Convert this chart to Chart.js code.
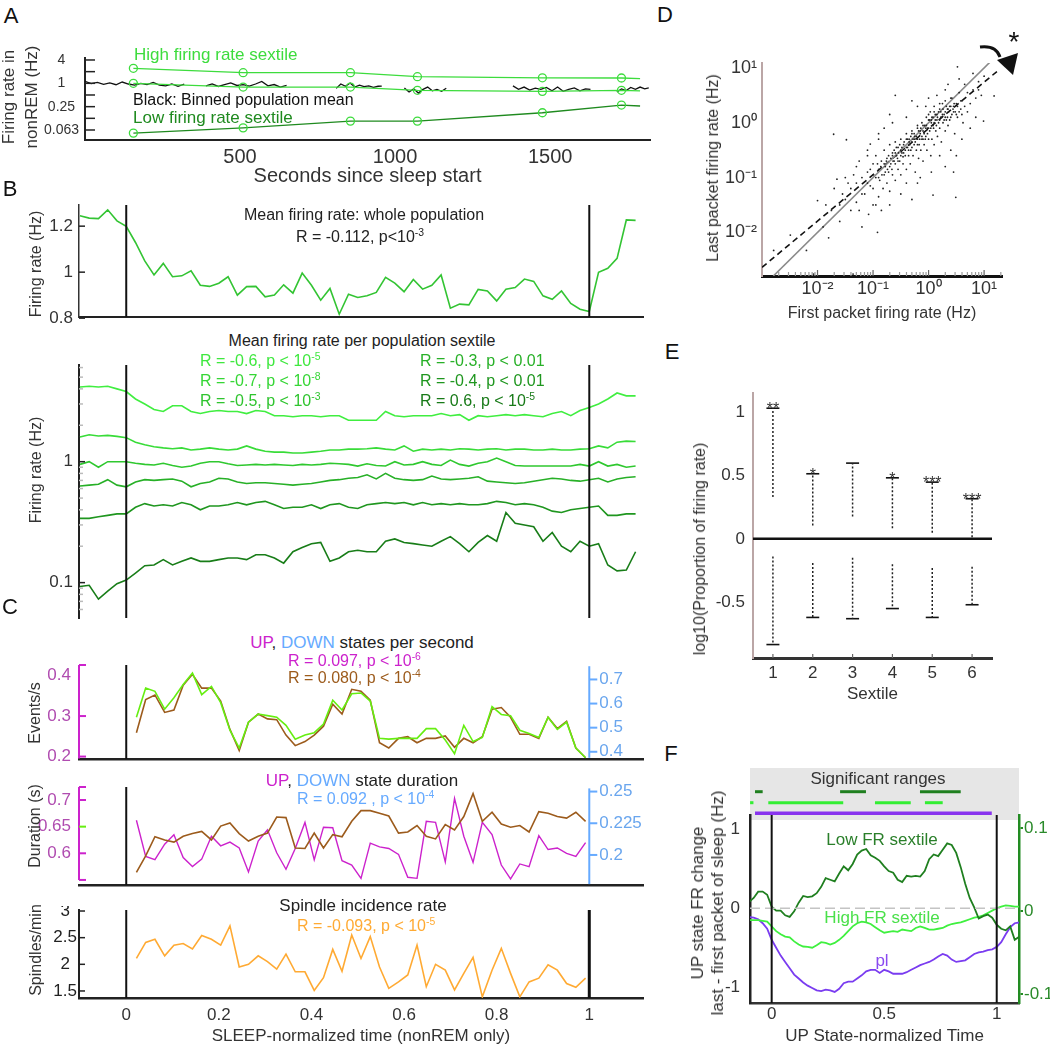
<!DOCTYPE html>
<html>
<head>
<meta charset="utf-8">
<script src="https://cdn.jsdelivr.net/npm/chart.js@4.4.0/dist/chart.umd.min.js"></script>
<style>
body { margin: 0; background: #fff; width: 1050px; height: 1047px; position: relative; overflow: hidden; font-family: 'Liberation Sans', Arial, sans-serif; color: #222; }
canvas { position: absolute; }
.t { position: absolute; white-space: nowrap; line-height: 1; transform: translate(-50%, -50%); }
.l { transform: translate(0, -50%); }
.rt { position: absolute; white-space: nowrap; text-align: center; transform: translate(-50%, -50%) rotate(-90deg); color: #333; }
.lt { position: absolute; font-size: 22px; line-height: 1; color: #111; transform: translate(-50%, -50%); }
sup { font-size: 65%; line-height: 0; vertical-align: 0.55em; }
</style>
</head>
<body>
<canvas id="cA"></canvas>
<canvas id="cB1"></canvas>
<canvas id="cB2"></canvas>
<canvas id="cC1"></canvas>
<canvas id="cC2"></canvas>
<canvas id="cC3"></canvas>
<canvas id="cD"></canvas>
<canvas id="cE"></canvas>
<canvas id="cF"></canvas>

<!-- panel letters -->
<div class="lt" style="left:11px;top:16px">A</div>
<div class="lt" style="left:10px;top:189px">B</div>
<div class="lt" style="left:10px;top:607px">C</div>
<div class="lt" style="left:665px;top:15px">D</div>
<div class="lt" style="left:672px;top:352px">E</div>
<div class="lt" style="left:671px;top:754px">F</div>

<!-- y axis titles -->
<div class="rt" style="left:20px;top:97px;font-size:17px;line-height:23px">Firing rate in<br>nonREM (Hz)</div>
<div class="rt" style="left:36px;top:264px;font-size:16px">Firing rate (Hz)</div>
<div class="rt" style="left:36px;top:470px;font-size:16px">Firing rate (Hz)</div>
<div class="rt" style="left:35px;top:713px;font-size:16px">Events/s</div>
<div class="rt" style="left:35px;top:826px;font-size:16px">Duration (s)</div>
<div class="rt" style="left:36px;top:950px;font-size:16px">Spindles/min</div>
<div class="rt" style="left:713px;top:168px;font-size:16px">Last packet firing rate (Hz)</div>
<div class="rt" style="left:700px;top:549px;font-size:16px">log10(Proportion of firing rate)</div>
<div class="rt" style="left:708px;top:903px;font-size:17px;line-height:20px">UP state FR change<br>last - first packet of sleep (Hz)</div>

<!-- A annotations -->
<div class="t l" style="left:134px;top:54px;font-size:17px;color:#3ddc3d">High firing rate sextile</div>
<div class="t l" style="left:133px;top:100px;font-size:16px;color:#111">Black: Binned population mean</div>
<div class="t l" style="left:133px;top:117px;font-size:17px;color:#1f8a1f">Low firing rate sextile</div>

<!-- B annotations -->
<div class="t" style="left:364px;top:215px;font-size:16px">Mean firing rate: whole population</div>
<div class="t" style="left:360px;top:237px;font-size:16px">R = -0.112, p&lt;10<sup>-3</sup></div>
<div class="t" style="left:362px;top:341px;font-size:16px">Mean firing rate per population sextile</div>
<div class="t l" style="left:200px;top:361px;font-size:16px;color:#3fe83f">R = -0.6, p &lt; 10<sup>-5</sup></div>
<div class="t l" style="left:200px;top:381px;font-size:16px;color:#36d636">R = -0.7, p &lt; 10<sup>-8</sup></div>
<div class="t l" style="left:200px;top:401px;font-size:16px;color:#2fc42f">R = -0.5, p &lt; 10<sup>-3</sup></div>
<div class="t l" style="left:420px;top:361px;font-size:16px;color:#28b028">R = -0.3, p &lt; 0.01</div>
<div class="t l" style="left:420px;top:381px;font-size:16px;color:#1f961f">R = -0.4, p &lt; 0.01</div>
<div class="t l" style="left:420px;top:401px;font-size:16px;color:#187a18">R = 0.6, p &lt; 10<sup>-5</sup></div>

<!-- C annotations -->
<div class="t" style="left:362px;top:642px;font-size:17px"><span style="color:#cc22cc">UP</span>, <span style="color:#66aaff">DOWN</span> states per second</div>
<div class="t l" style="left:288px;top:661px;font-size:16px;color:#cc22cc">R = 0.097, p &lt; 10<sup>-6</sup></div>
<div class="t l" style="left:288px;top:678px;font-size:16px;color:#9c5b1c">R = 0.080, p &lt; 10<sup>-4</sup></div>
<div class="t" style="left:362px;top:780px;font-size:17px"><span style="color:#cc22cc">UP</span>, <span style="color:#66aaff">DOWN</span> state duration</div>
<div class="t l" style="left:297px;top:799px;font-size:16px;color:#66aaff">R = 0.092 , p &lt; 10<sup>-4</sup></div>
<div class="t" style="left:363px;top:905px;font-size:17px">Spindle incidence rate</div>
<div class="t l" style="left:297px;top:926px;font-size:16px;color:#ffaa33">R = -0.093, p &lt; 10<sup>-5</sup></div>

<!-- D / F annotations -->
<div class="t" style="left:1014px;top:42px;font-size:28px;color:#111">*</div>
<div class="t" style="left:878px;top:778px;font-size:17px;color:#333">Significant ranges</div>
<div class="t" style="left:882px;top:839px;font-size:17px;color:#2a7f2a">Low FR sextile</div>
<div class="t" style="left:882px;top:917px;font-size:17px;color:#4ae04a">High FR sextile</div>
<div class="t" style="left:882px;top:960px;font-size:17px;color:#8a4af0">pl</div>

<script>
// ---------------- data ----------------

// A: sextile rates at recording checkpoints (seconds since sleep start)
const aTimes = [156, 510, 856, 1072, 1475, 1730, 1790];
const aHigh = [2.44, 1.88, 1.88, 1.48, 1.39, 1.37, 1.32];
const aMid = [1.0, 0.8, 0.8, 0.66, 0.62, 0.66, 0.64];
const aLow = [0.052, 0.071, 0.106, 0.106, 0.174, 0.275, 0.26];
// binned population mean (null = gap between packets)
const popT = [0, 20, 40, 60, 80, 100, 120, 140, 160, 180, 200, 220, 240, 260, 280, 300, 320, 350,
  390, 410, 430, 450, 470, 490, 510, 530, 550, 570, 590, 610, 630, 650, 720,
  810, 825, 840, 855, 870, 885, 900, 915, 930, 945, 957, 1000,
  1030, 1045, 1060, 1075, 1090, 1105, 1120, 1135, 1150, 1165, 1250,
  1380, 1398, 1416, 1434, 1452, 1470, 1488, 1506, 1524, 1542, 1560, 1578, 1596, 1614, 1630, 1680,
  1715, 1730, 1745, 1760, 1775, 1790, 1805, 1818];
const popV = [1.12, 0.98, 1.06, 0.94, 1.02, 0.92, 1.08, 0.96, 0.9, 1.0, 0.93, 1.05, 0.9, 0.86, 0.96, 0.84, 0.95, null,
  0.86, 0.97, 0.83, 0.92, 1.02, 0.88, 0.93, 0.85, 0.96, 1.12, 0.86, 0.93, 0.8, 0.88, null,
  0.74, 0.96, 0.84, 1.02, 0.8, 0.9, 0.82, 0.86, 0.79, 0.84, 0.85, null,
  0.76, 0.6, 0.72, 0.56, 0.7, 0.8, 0.64, 0.7, 0.62, 0.75, null,
  0.86, 0.7, 0.8, 0.67, 0.75, 0.7, 0.78, 0.64, 0.8, 0.62, 0.7, 0.76, 0.64, 0.72, 0.7, null,
  0.6, 0.72, 0.65, 0.78, 0.7, 0.8, 0.72, 0.76];

// B and F: sleep-normalized time bins
const binTime = [-0.1, -0.08, -0.06, -0.04, -0.02, 0, 0.02, 0.04, 0.06, 0.08, 0.1, 0.12, 0.14, 0.16, 0.18, 0.2,
  0.22, 0.24, 0.26, 0.28, 0.3, 0.32, 0.34, 0.36, 0.38, 0.4, 0.42, 0.44, 0.46, 0.48, 0.5, 0.52, 0.54, 0.56,
  0.58, 0.6, 0.62, 0.64, 0.66, 0.68, 0.7, 0.72, 0.74, 0.76, 0.78, 0.8, 0.82, 0.84, 0.86, 0.88, 0.9, 0.92,
  0.94, 0.96, 0.98, 1, 1.02, 1.04, 1.06, 1.08, 1.1];
const bMean = [1.245, 1.235, 1.233, 1.271, 1.223, 1.199, 1.129, 1.049, 0.988, 1.038, 0.980, 0.984, 1.006,
  0.943, 0.938, 0.952, 0.980, 0.900, 0.937, 0.938, 0.893, 0.901, 0.945, 0.909, 0.996, 0.943, 0.878, 0.929,
  0.817, 0.904, 0.890, 0.897, 0.912, 0.977, 0.952, 0.915, 0.968, 0.926, 0.943, 0.988, 0.843, 0.861, 0.858,
  0.925, 0.918, 0.875, 0.926, 0.933, 0.970, 0.960, 0.897, 0.882, 0.918, 0.864, 0.839, 0.829, 0.999, 1.017,
  1.060, 1.227, 1.225];
const sext6 = [4.15, 4.2, 4.15, 4.2, 4.0, 3.8, 3.3, 3.0, 2.7, 2.6, 2.9, 2.9, 2.6, 2.5, 2.6, 2.65, 2.6, 2.6, 2.5,
  2.65, 2.6, 2.4, 2.4, 2.35, 2.4, 2.4, 2.35, 2.4, 2.4, 2.2, 2.2, 2.2, 2.2, 2.6, 2.4, 2.35, 2.4, 2.4, 2.4, 2.5,
  2.4, 2.45, 2.2, 2.4, 2.35, 2.4, 2.45, 2.4, 2.45, 2.4, 2.35, 2.5, 2.6, 2.4, 2.65, 2.8, 3.0, 3.3, 3.7, 3.5, 3.5];
const sext5 = [1.6, 1.67, 1.63, 1.65, 1.62, 1.58, 1.45, 1.38, 1.33, 1.3, 1.28, 1.3, 1.25, 1.27, 1.3, 1.27, 1.25,
  1.27, 1.35, 1.27, 1.22, 1.2, 1.2, 1.18, 1.18, 1.2, 1.22, 1.25, 1.25, 1.27, 1.27, 1.28, 1.3, 1.27, 1.25, 1.35,
  1.22, 1.27, 1.25, 1.27, 1.25, 1.28, 1.27, 1.25, 1.27, 1.28, 1.25, 1.27, 1.27, 1.25, 1.25, 1.27, 1.25, 1.25,
  1.27, 1.28, 1.35, 1.3, 1.45, 1.48, 1.47];
const sext4 = [0.95, 1.0, 0.9, 1.0, 1.0, 1.0, 0.97, 0.95, 0.94, 0.97, 0.93, 0.9, 0.92, 0.97, 1.0, 1.0, 0.96, 0.93,
  0.94, 0.95, 0.94, 0.95, 0.94, 0.93, 0.95, 0.94, 0.95, 0.97, 0.96, 0.95, 0.92, 0.96, 0.93, 0.92, 1.0, 0.94,
  0.95, 1.0, 0.95, 0.93, 1.03, 0.95, 0.92, 0.97, 1.0, 1.07, 1.0, 0.93, 0.92, 0.92, 0.92, 0.92, 0.92, 0.92,
  0.95, 0.92, 1.0, 0.92, 0.95, 0.9, 0.92];
const sext3 = [0.63, 0.64, 0.65, 0.71, 0.64, 0.62, 0.68, 0.71, 0.7, 0.71, 0.72, 0.69, 0.62, 0.66, 0.68, 0.73,
  0.72, 0.68, 0.66, 0.67, 0.67, 0.66, 0.65, 0.64, 0.65, 0.66, 0.68, 0.7, 0.71, 0.73, 0.74, 0.78, 0.72, 0.8,
  0.73, 0.71, 0.7, 0.71, 0.76, 0.72, 0.71, 0.72, 0.73, 0.75, 0.69, 0.68, 0.67, 0.66, 0.67, 0.69, 0.71, 0.73,
  0.72, 0.7, 0.69, 0.71, 0.73, 0.68, 0.72, 0.74, 0.75];
const sext2 = [0.34, 0.34, 0.35, 0.36, 0.37, 0.37, 0.42, 0.45, 0.43, 0.44, 0.43, 0.46, 0.44, 0.4, 0.43, 0.43,
  0.44, 0.46, 0.44, 0.46, 0.47, 0.44, 0.41, 0.42, 0.42, 0.44, 0.41, 0.44, 0.45, 0.42, 0.41, 0.44, 0.45, 0.46,
  0.45, 0.46, 0.44, 0.46, 0.44, 0.45, 0.44, 0.45, 0.44, 0.44, 0.45, 0.47, 0.46, 0.44, 0.45, 0.44, 0.42, 0.39,
  0.38, 0.4, 0.41, 0.42, 0.43, 0.36, 0.36, 0.37, 0.37];
const sext1 = [0.093, 0.095, 0.073, 0.085, 0.098, 0.105, 0.12, 0.138, 0.14, 0.155, 0.14, 0.15, 0.16, 0.15, 0.15,
  0.155, 0.16, 0.16, 0.155, 0.17, 0.17, 0.16, 0.145, 0.18, 0.195, 0.21, 0.215, 0.15, 0.16, 0.18, 0.185, 0.18,
  0.18, 0.22, 0.23, 0.215, 0.21, 0.205, 0.2, 0.22, 0.24, 0.21, 0.18, 0.215, 0.245, 0.22, 0.38, 0.31, 0.3, 0.29,
  0.22, 0.26, 0.2, 0.18, 0.22, 0.2, 0.21, 0.14, 0.125, 0.127, 0.18];

// C: nonREM time bins
const cTime = [0.022, 0.042, 0.062, 0.083, 0.103, 0.123, 0.143, 0.163, 0.184, 0.204, 0.224, 0.244, 0.264, 0.285,
  0.305, 0.325, 0.345, 0.365, 0.386, 0.406, 0.426, 0.446, 0.466, 0.487, 0.507, 0.527, 0.547, 0.567, 0.588,
  0.608, 0.628, 0.648, 0.668, 0.689, 0.709, 0.729, 0.749, 0.769, 0.790, 0.810, 0.830, 0.850, 0.870, 0.891,
  0.911, 0.931, 0.951, 0.971, 0.992];
const rateGreen = [0.297, 0.369, 0.361, 0.317, 0.345, 0.378, 0.406, 0.353, 0.373, 0.333, 0.265, 0.221, 0.285,
  0.305, 0.301, 0.297, 0.277, 0.243, 0.253, 0.259, 0.280, 0.339, 0.315, 0.355, 0.357, 0.337, 0.245, 0.243,
  0.245, 0.245, 0.245, 0.269, 0.269, 0.241, 0.207, 0.277, 0.237, 0.247, 0.323, 0.304, 0.301, 0.265, 0.257,
  0.247, 0.297, 0.267, 0.285, 0.221, 0.197];
const rateBrown = [0.259, 0.341, 0.352, 0.309, 0.315, 0.376, 0.403, 0.369, 0.369, 0.337, 0.267, 0.215, 0.285,
  0.305, 0.293, 0.291, 0.253, 0.227, 0.237, 0.253, 0.275, 0.329, 0.305, 0.366, 0.361, 0.339, 0.234, 0.221,
  0.245, 0.249, 0.234, 0.245, 0.245, 0.251, 0.223, 0.245, 0.234, 0.249, 0.317, 0.321, 0.297, 0.255, 0.255,
  0.245, 0.297, 0.269, 0.287, 0.221, 0.197];
const durBrown = [0.564, 0.595, 0.631, 0.625, 0.621, 0.632, 0.637, 0.641, 0.625, 0.651, 0.657, 0.637, 0.623,
  0.632, 0.638, 0.668, 0.667, 0.610, 0.609, 0.638, 0.610, 0.635, 0.631, 0.660, 0.680, 0.680, 0.675, 0.670,
  0.638, 0.640, 0.652, 0.632, 0.627, 0.654, 0.644, 0.669, 0.712, 0.660, 0.677, 0.655, 0.649, 0.652, 0.640,
  0.678, 0.675, 0.669, 0.666, 0.677, 0.660];
const durMagenta = [0.662, 0.594, 0.588, 0.617, 0.635, 0.592, 0.575, 0.589, 0.632, 0.614, 0.621, 0.610, 0.565,
  0.623, 0.644, 0.601, 0.570, 0.609, 0.658, 0.588, 0.649, 0.648, 0.586, 0.578, 0.553, 0.619, 0.612, 0.609,
  0.598, 0.555, 0.553, 0.660, 0.658, 0.584, 0.703, 0.632, 0.583, 0.658, 0.635, 0.578, 0.552, 0.580, 0.575,
  0.633, 0.607, 0.610, 0.600, 0.594, 0.620];
const spindles = [2.11, 2.41, 2.47, 2.16, 2.36, 2.39, 2.29, 2.54, 2.47, 2.36, 2.72, 1.95, 2.0, 2.16, 2.05, 1.91,
  2.19, 1.86, 1.86, 1.51, 1.75, 2.28, 1.87, 2.55, 2.11, 2.52, 1.95, 1.55, 1.67, 1.80, 2.36, 1.58, 2.0, 1.89,
  1.52, 1.83, 2.13, 1.39, 1.89, 2.30, 1.83, 1.39, 1.67, 1.74, 1.99, 1.89, 1.64, 1.57, 1.74];

// D: log10(first packet rate), log10(last packet rate) per neuron
const dPairs = [[0.52, 1.02], [-1.71, -0.21], [-1.48, -0.31], [-1.65, -1.03], [-2.0, -1.42], [-2.49, -2.05],
  [-2.79, -2.33], [-2.2, -2.33], [-2.07, -2.76], [-1.36, -2.76], [-1.08, -1.67], [0.49, -1.36], [0.99, 0.03],
  [1.18, 0.49], [-0.7, 0.15], [-1.05, -0.39], [0.08, -1.32], [-0.92, -2.0], [-1.2, -1.9], [-1.4, -1.6],
  [-1.55, -1.3], [-1.3, -1.1], [-1.6, -1.8], [-1.8, -2.1], [-1.0, -1.5], [-0.9, -0.2], [-0.6, 0.5], [-0.3, 0.4],
  [0.7, 0.2], [0.9, 0.6], [0.8, 0.9], [0.3, -0.8], [0.5, -0.6], [-0.2, -1.1], [-1.1, -0.6], [-1.3, -0.8],
  [-1.5, -1.0], [-1.2, -1.3],
  [-1.2, -1.0], [-1.15, -1.3], [-1.1, -0.9], [-1.05, -1.15], [-1.0, -0.75], [-1.0, -1.2], [-0.95, -1.0],
  [-0.95, -0.6], [-0.9, -1.35], [-0.9, -0.85], [-0.88, -1.05], [-0.85, -0.7], [-0.82, -1.2], [-0.8, -0.95],
  [-0.8, -0.5], [-0.78, -0.8], [-0.75, -1.1], [-0.75, -0.65], [-0.72, -0.9], [-0.7, -0.4], [-0.7, -1.25],
  [-0.68, -0.75], [-0.65, -0.95], [-0.65, -0.55], [-0.62, -0.7], [-0.6, -1.05], [-0.6, -0.35], [-0.58, -0.6],
  [-0.55, -0.85], [-0.55, -0.45], [-0.52, -0.7], [-0.5, -0.95], [-0.5, -0.3], [-0.48, -0.55], [-0.46, -0.75],
  [-0.45, -0.4], [-0.42, -0.6], [-0.4, -0.2], [-0.4, -0.85], [-0.38, -0.45], [-0.36, -0.6], [-0.35, -0.3],
  [-0.33, -0.75], [-0.32, -0.5], [-0.3, -0.15], [-0.3, -0.35], [-0.28, -0.6], [-0.26, -0.4], [-0.25, -0.25],
  [-0.24, -0.9], [-0.22, -0.5], [-0.2, -0.1], [-0.2, -0.3], [-0.18, -0.65], [-0.17, -0.4], [-0.15, -0.2],
  [-0.14, -0.5], [-0.12, 0.0], [-0.12, -0.3], [-0.1, -0.15], [-0.1, -0.7], [-0.08, -0.4], [-0.07, -0.05],
  [-0.05, -0.25], [-0.04, 0.1], [-0.03, -0.5], [-0.02, -0.1], [0.0, -0.3], [0.0, 0.05], [0.02, -0.15],
  [0.03, 0.2], [0.04, -0.6], [0.05, 0.0], [0.06, -0.3], [0.08, 0.1], [0.09, -0.1], [0.1, 0.3], [0.1, -0.4],
  [0.12, 0.05], [0.13, -0.15], [0.15, 0.15], [0.16, -0.25], [0.18, 0.0], [0.2, 0.25], [0.2, -0.1], [0.22, 0.1],
  [0.23, -0.35], [0.25, 0.35], [0.26, 0.0], [0.28, 0.15], [0.3, -0.15], [0.3, 0.4], [0.32, 0.05], [0.34, 0.25],
  [0.35, -0.05], [0.38, 0.3], [0.4, 0.1], [0.42, 0.45], [0.45, 0.2], [0.47, -0.2], [0.5, 0.35], [0.52, 0.1],
  [0.55, 0.55], [0.58, 0.25], [0.6, 0.4], [0.62, 0.0], [0.65, 0.3], [0.7, 0.55], [0.75, 0.35], [0.8, 0.6],
  [0.85, 0.45], [0.9, 0.75], [0.95, 0.5], [1.0, 0.85], [-1.4, -1.2], [-1.35, -0.95], [-1.3, -1.45],
  [-1.25, -0.7], [-1.5, -1.4], [-1.45, -1.1], [-1.6, -1.5], [-1.7, -1.2], [-1.75, -1.6], [-1.85, -1.5],
  [-1.9, -1.9], [-1.25, -1.6], [-0.95, -1.5], [-0.85, -1.6], [-0.7, -1.5], [-0.5, -1.3], [-0.4, -1.1],
  [-0.3, -1.4], [-1.1, -0.5], [-0.9, -0.3], [-0.8, -0.1], [-0.65, 0.0], [-0.4, 0.1], [-0.2, 0.3], [0.0, 0.45],
  [0.15, 0.5], [0.35, 0.7], [0.55, 0.8], [0.2, -0.6], [0.4, -0.5], [0.6, -0.3], [0.75, -0.1], [0.85, 0.1],
  [0.45, -0.9], [0.05, -0.9], [-0.15, -1.0], [0.65, 0.7], [0.3, 0.6], [-0.05, 0.3],
  [-0.8, -0.75], [-0.78, -0.9], [-0.76, -0.7], [-0.74, -0.85], [-0.72, -0.6], [-0.7, -0.8], [-0.68, -0.65],
  [-0.66, -0.85], [-0.64, -0.7], [-0.62, -0.5], [-0.6, -0.75], [-0.58, -0.45], [-0.56, -0.65], [-0.54, -0.55],
  [-0.52, -0.4], [-0.5, -0.6], [-0.48, -0.45], [-0.46, -0.62], [-0.44, -0.35], [-0.42, -0.5], [-0.4, -0.45],
  [-0.38, -0.3], [-0.36, -0.5], [-0.34, -0.4], [-0.32, -0.25], [-0.3, -0.45], [-0.28, -0.3], [-0.26, -0.2],
  [-0.24, -0.35], [-0.22, -0.25], [-0.2, -0.4], [-0.18, -0.15], [-0.16, -0.3], [-0.14, -0.1], [-0.12, -0.25],
  [-0.1, -0.05], [-0.08, -0.2], [-0.06, -0.3], [-0.04, -0.05], [-0.02, -0.2], [0.0, -0.1], [0.02, 0.05],
  [0.04, -0.1], [0.06, 0.1], [0.08, -0.05], [0.1, 0.0], [0.12, 0.15], [0.14, -0.05], [0.16, 0.1], [0.18, 0.2],
  [0.2, 0.05], [0.22, 0.2], [0.24, 0.1], [0.26, 0.25], [0.28, 0.05], [0.3, 0.2], [0.32, 0.3], [0.34, 0.1],
  [0.36, 0.2], [0.38, 0.05], [0.4, 0.3], [0.42, 0.15], [0.44, 0.25], [0.46, 0.35], [0.48, 0.2], [0.5, 0.15],
  [0.52, 0.3], [0.55, 0.2], [0.58, 0.4], [0.6, 0.15], [-0.9, -1.0], [-0.86, -0.8], [-0.84, -0.95],
  [-0.92, -0.75], [-1.0, -0.95], [-1.05, -0.85], [-1.1, -1.1], [-0.5, -0.5], [-0.45, -0.55], [-0.35, -0.35],
  [-0.25, -0.3], [-0.15, -0.15], [-0.05, -0.1], [0.05, 0.05], [0.15, 0.05], [0.25, 0.15], [0.35, 0.25],
  [0.45, 0.3], [-0.55, -0.7], [-0.65, -0.6], [-0.3, -0.2], [-0.1, -0.3], [0.1, 0.2], [0.3, 0.1], [0.0, 0.15],
  [-0.2, -0.05], [-0.4, -0.3], [-0.6, -0.55], [0.2, 0.35], [0.4, 0.45]];
const dUnity = [[0.0016, 0.0016], [13, 13]];
const dFit = [[0.001, 0.0023], [17, 8.6]];

// E: per-sextile ranges of log10 proportion
const sextiles = [1, 2, 3, 4, 5, 6];
const eUpFrom = [0.33, 0.105, 0.176, 0.084, 0.047, 0.013];
const eUpTo = [1.03, 0.513, 0.597, 0.481, 0.447, 0.316];
const eDownFrom = [-0.14, -0.19, -0.15, -0.2, -0.23, -0.22];
const eDownTo = [-0.834, -0.62, -0.63, -0.55, -0.62, -0.52];
const eStars = ['**', '*', '', '*', '***', '***'];

// F: UP-state FR change
const fLow = [0.08, 0.13, 0.21, 0.21, 0.17, 0.02, -0.03, -0.03, -0.09, -0.11, -0.04, 0.07, 0.155, 0.14, 0.15,
  0.19, 0.27, 0.38, 0.36, 0.34, 0.44, 0.53, 0.48, 0.56, 0.68, 0.73, 0.75, 0.67, 0.64, 0.60, 0.53, 0.47, 0.45,
  0.36, 0.33, 0.41, 0.40, 0.41, 0.40, 0.47, 0.62, 0.68, 0.66, 0.74, 0.82, 0.80, 0.70, 0.52, 0.31, 0.13, 0.01,
  -0.13, -0.10, -0.08, -0.12, -0.21, -0.26, -0.28, -0.23, -0.40, -0.36];
const fHigh = [-0.15, -0.15, -0.15, -0.16, -0.17, -0.23, -0.29, -0.33, -0.36, -0.37, -0.42, -0.46, -0.485,
  -0.49, -0.50, -0.47, -0.43, -0.44, -0.46, -0.44, -0.40, -0.35, -0.29, -0.23, -0.19, -0.17, -0.18, -0.20,
  -0.24, -0.28, -0.31, -0.30, -0.29, -0.30, -0.27, -0.28, -0.29, -0.25, -0.23, -0.25, -0.27, -0.27, -0.26,
  -0.25, -0.22, -0.20, -0.19, -0.18, -0.16, -0.14, -0.12, -0.11, -0.09, -0.06, -0.03, 0.00, 0.02, 0.035,
  0.03, 0.02, 0.02];
const fPl = [-0.11, -0.12, -0.14, -0.19, -0.26, -0.40, -0.50, -0.60, -0.68, -0.76, -0.84, -0.89, -0.94, -0.98,
  -1.01, -1.04, -1.05, -1.03, -1.04, -1.06, -1.02, -0.95, -0.93, -0.93, -0.89, -0.85, -0.80, -0.78, -0.78,
  -0.82, -0.78, -0.80, -0.83, -0.83, -0.83, -0.81, -0.78, -0.75, -0.72, -0.70, -0.68, -0.65, -0.61, -0.58,
  -0.60, -0.65, -0.68, -0.67, -0.66, -0.62, -0.58, -0.56, -0.55, -0.53, -0.52, -0.49, -0.43, -0.33, -0.24,
  -0.19, -0.18];
const sigDark = [[-0.074, -0.04], [0.304, 0.419], [0.659, 0.84]];
const sigBright = [[-0.096, -0.081], [-0.015, 0.318], [0.459, 0.618], [0.681, 0.76]];
const sigPurple = [[-0.074, 0.978]];

// ---------------- helpers ----------------
Chart.defaults.font.family = "'Liberation Sans', Arial, sans-serif";
Chart.defaults.color = '#333';

const MAG = '#cc22cc', BLUE = '#66aaff', LIME = '#66ee11', BROWN = '#9c5b1c';

function xy(xs, ys) { return xs.map((x, i) => ({ x: x, y: ys[i] })); }
function vline(x, y0, y1, w) {
  return { data: [{ x: x, y: y0 }, { x: x, y: y1 }], borderColor: '#111', borderWidth: w || 2, pointRadius: 0 };
}
function line(data, color, w, extra) {
  return Object.assign({ data: data, borderColor: color, borderWidth: w || 1.5, pointRadius: 0, spanGaps: false }, extra || {});
}

function axis(o) {
  const horiz = o.pos === 'bottom';
  return {
    type: o.type || 'linear', position: o.pos, min: o.min, max: o.max, display: o.display !== false,
    grid: { display: !!o.tickMarks, drawOnChartArea: false, drawTicks: !!o.tickMarks, tickLength: o.tickMarks || 0,
      tickColor: o.tickColor || '#333', lineWidth: 2 },
    border: o.border ? { display: true, color: o.border[0], width: o.border[1] } : { display: false },
    ticks: { display: !!o.labels, autoSkip: false, maxRotation: 0, minRotation: 0, padding: o.pad || 0,
      font: o.font || { size: 17 }, color: o.color || '#333', crossAlign: o.cross || 'near',
      callback: function (v, i) { return o.labels ? o.labels[i] : ''; } },
    title: o.title ? { display: true, text: o.title, font: o.titleFont || { size: 17 }, color: '#333',
      padding: { top: 0, bottom: o.titlePad || 0 } } : { display: false },
    afterBuildTicks: function (s) { s.ticks = (o.ticks || []).map(v => ({ value: v })); },
    afterFit: function (s) {
      if (horiz) s.height = o.size; else s.width = o.size;
      s.paddingLeft = 0; s.paddingRight = 0; s.paddingTop = 0; s.paddingBottom = 0;
    }
  };
}

function makeChart(id, g, scales, datasets, rightAxis) {
  const cv = document.getElementById(id);
  const w = g.r - g.l + g.L + g.R, h = g.b - g.t + g.T + g.B;
  cv.width = w; cv.height = h;
  cv.style.left = (g.l - g.L) + 'px'; cv.style.top = (g.t - g.T) + 'px';
  cv.style.width = w + 'px'; cv.style.height = h + 'px';
  return new Chart(cv, {
    type: 'line',
    data: { datasets: datasets },
    options: {
      responsive: false, animation: false, events: [], devicePixelRatio: 1,
      layout: { padding: { left: 0, top: g.T, right: rightAxis ? 0 : g.R, bottom: 0 } },
      plugins: { legend: { display: false }, tooltip: { enabled: false } },
      elements: { point: { radius: 0 }, line: { tension: 0, borderWidth: 1.5 } },
      scales: scales
    }
  });
}

// decorations drawn through the chart scales (inward ticks, side axes, ranges, stars)
const deco = {};
function drawDeco(chart, phase) {
  const items = deco[chart.canvas.id] || [];
  const ctx = chart.ctx, ca = chart.chartArea;
  ctx.save();
  items.forEach(it => {
    if ((it.phase || 'after') !== phase) return;
    if (it.t === 'vaxis') {
      const ys = chart.scales[it.scale || 'y'];
      const x = it.x === 'left' ? ca.left : chart.scales.x.getPixelForValue(it.x);
      ctx.lineWidth = it.width || 1.5;
      ctx.strokeStyle = it.color;
      if (it.from !== undefined) {
        ctx.beginPath(); ctx.moveTo(x, ys.getPixelForValue(it.from)); ctx.lineTo(x, ys.getPixelForValue(it.to)); ctx.stroke();
      }
      it.ticks.forEach((v, i) => {
        const y = ys.getPixelForValue(v);
        ctx.strokeStyle = (it.tickColors && it.tickColors[i]) || it.color;
        ctx.beginPath(); ctx.moveTo(x, y); ctx.lineTo(x + it.len, y); ctx.stroke();
      });
      if (it.labels) {
        ctx.fillStyle = it.labelColor; ctx.font = it.font; ctx.textAlign = 'left'; ctx.textBaseline = 'middle';
        it.labels.forEach((s, i) => ctx.fillText(s, x + it.len + (it.gap || 2), ys.getPixelForValue(it.ticks[i])));
      }
    } else if (it.t === 'haxis') {
      const xs = chart.scales.x;
      ctx.lineWidth = it.width || 1.2; ctx.strokeStyle = it.color;
      it.ticks.forEach(v => {
        const x = xs.getPixelForValue(v);
        ctx.beginPath(); ctx.moveTo(x, ca.bottom); ctx.lineTo(x, ca.bottom + it.len); ctx.stroke();
      });
    } else if (it.t === 'rect') {
      ctx.fillStyle = it.color;
      ctx.fillRect(ca.left, ca.top + it.dy0, ca.right - ca.left, it.dy1 - it.dy0);
    } else if (it.t === 'hbars') {
      const xs = chart.scales.x;
      ctx.strokeStyle = it.color; ctx.lineWidth = it.width || 3;
      it.ranges.forEach(r => {
        ctx.beginPath(); ctx.moveTo(xs.getPixelForValue(r[0]), ca.top + it.dy); ctx.lineTo(xs.getPixelForValue(r[1]), ca.top + it.dy); ctx.stroke();
      });
    } else if (it.t === 'text') {
      ctx.font = it.font; ctx.fillStyle = it.color; ctx.textAlign = 'center'; ctx.textBaseline = 'alphabetic';
      ctx.fillText(it.text, chart.scales.x.getPixelForValue(it.x), chart.scales.y.getPixelForValue(it.y) + (it.dy || 0));
    } else if (it.t === 'arrow') {
      const R = ca.right, T = ca.top;
      ctx.strokeStyle = '#111'; ctx.lineWidth = 3;
      ctx.beginPath(); ctx.moveTo(R - 22, T - 16); ctx.quadraticCurveTo(R - 6, T - 18, R - 2, T - 6); ctx.stroke();
      ctx.fillStyle = '#111';
      ctx.beginPath(); ctx.moveTo(R - 5, T - 3); ctx.lineTo(R + 16, T - 10); ctx.lineTo(R + 11, T + 12); ctx.closePath(); ctx.fill();
    }
  });
  ctx.restore();
}
Chart.register({
  id: 'deco',
  beforeDraw(chart) { drawDeco(chart, 'under'); },
  afterDraw(chart) { drawDeco(chart, 'after'); }
});

// ---------------- A ----------------
deco.cA = [{ t: 'vaxis', x: 'left', ticks: [4, 2, 1, 0.5, 0.25, 0.125, 0.0625], len: 10, color: '#222', width: 1.5 }];
const circ = { pointRadius: [4, 4, 4, 4, 4, 4, 0], pointStyle: 'circle', pointBorderWidth: 1.3,
  pointBackgroundColor: 'rgba(255,255,255,0)' };
makeChart('cA', { l: 85, t: 58, r: 650, b: 140, L: 85, T: 12, R: 10, B: 50 }, {
  x: axis({ pos: 'bottom', min: 0, max: 1822, size: 50, ticks: [500, 1000, 1500], labels: ['500', '1000', '1500'],
    font: { size: 20 }, pad: 5, border: ['#222', 2], title: 'Seconds since sleep start',
    titleFont: { size: 20, lineHeight: 1.2 }, titlePad: 2 }),
  y: axis({ type: 'logarithmic', pos: 'left', min: 0.0345, max: 4.5, size: 85, ticks: [4, 1, 0.25, 0.0625],
    labels: ['4', '1', '0.25', '0.063'], font: { size: 14 }, pad: 6, cross: 'center', border: ['#222', 2] })
}, [
  line(xy(aTimes, aHigh), '#3ddc3d', 1.3, Object.assign({ pointBorderColor: '#3ddc3d' }, circ)),
  line(xy(aTimes, aMid), '#3ddc3d', 1.3, Object.assign({ pointBorderColor: '#3ddc3d' }, circ)),
  line(xy(aTimes, aLow), '#1f8a1f', 1.3, Object.assign({ pointBorderColor: '#3ddc3d' }, circ)),
  line(xy(popT, popV), '#111', 1.3)
]);

// ---------------- B ----------------
const bx = { pos: 'bottom', min: -0.102, max: 1.116, size: 6 };
deco.cB1 = [{ t: 'vaxis', x: 'left', ticks: [0.8, 1, 1.2], len: 6, color: '#222' }];
makeChart('cB1', { l: 79, t: 205, r: 643, b: 317, L: 79, T: 8, R: 10, B: 6 }, {
  x: axis(Object.assign({ border: ['#222', 2] }, bx)),
  y: axis({ pos: 'left', min: 0.805, max: 1.292, size: 79, ticks: [0.8, 1, 1.2], labels: ['0.8', '1', '1.2'],
    pad: 6, border: ['#333', 1.5] })
}, [
  vline(0, 0.805, 1.292), vline(1, 0.805, 1.292),
  line(xy(binTime, bMean), '#33c433', 1.6)
]);

deco.cB2 = [
  { t: 'vaxis', x: 'left', ticks: [0.06, 0.07, 0.08, 0.09, 0.2, 0.3, 0.4, 0.5, 0.6, 0.7, 0.8, 0.9, 2, 3, 4, 5, 6], len: 4, color: '#bbb' },
  { t: 'vaxis', x: 'left', ticks: [0.1, 1], len: 6, color: '#222' }
];
makeChart('cB2', { l: 79, t: 365, r: 643, b: 618, L: 79, T: 8, R: 10, B: 6 }, {
  x: axis(bx),
  y: axis({ type: 'logarithmic', pos: 'left', min: 0.051, max: 6.3, size: 79, ticks: [0.1, 1], labels: ['0.1', '1'],
    pad: 6, border: ['#222', 2] })
}, [
  vline(0, 0.051, 6.3), vline(1, 0.051, 6.3),
  line(xy(binTime, sext6), '#40ee40', 1.6),
  line(xy(binTime, sext5), '#38dc38', 1.6),
  line(xy(binTime, sext4), '#2fc82f', 1.6),
  line(xy(binTime, sext3), '#27b027', 1.6),
  line(xy(binTime, sext2), '#1f961f', 1.6),
  line(xy(binTime, sext1), '#187d18', 1.6)
]);

// ---------------- C ----------------
const cx = { pos: 'bottom', min: -0.102, max: 1.116, size: 4, border: ['#222', 2.5] };
deco.cC1 = [
  { t: 'vaxis', x: 'left', from: 0.195, to: 0.426, ticks: [0.2, 0.3, 0.426], len: 7, color: MAG, width: 2 },
  { t: 'vaxis', scale: 'yB', x: 1, from: 0.375, to: 0.755, ticks: [0.4, 0.5, 0.6, 0.7], len: 8, color: BLUE, width: 2,
    labels: ['0.4', '0.5', '0.6', '0.7'], font: "17px 'Liberation Sans'", labelColor: '#6aa6ee', gap: 2 }
];
makeChart('cC1', { l: 79, t: 665, r: 643, b: 759, L: 79, T: 6, R: 10, B: 4 }, {
  x: axis(cx),
  y: axis({ pos: 'left', min: 0.194, max: 0.426, size: 79, ticks: [0.2, 0.3, 0.4], labels: ['0.2', '0.3', '0.4'],
    pad: 8, color: '#b04cb0' }),
  yB: { type: 'linear', display: false, min: 0.37, max: 0.76 }
}, [
  vline(0, 0.194, 0.426),
  line(xy(cTime, rateGreen), LIME, 1.6),
  line(xy(cTime, rateBrown), BROWN, 1.6)
]);

deco.cC2 = [
  { t: 'vaxis', x: 'left', from: 0.55, to: 0.7244, ticks: [0.55, 0.6, 0.65, 0.7, 0.7244],
    tickColors: [MAG, MAG, LIME, MAG, MAG], len: 7, color: MAG, width: 2 },
  { t: 'vaxis', scale: 'yB', x: 1, from: 0.177, to: 0.2525, ticks: [0.2, 0.225, 0.25], len: 8, color: BLUE, width: 2,
    labels: ['0.2', '0.225', '0.25'], font: "17px 'Liberation Sans'", labelColor: '#6aa6ee', gap: 2 }
];
makeChart('cC2', { l: 79, t: 787, r: 643, b: 885, L: 79, T: 4, R: 10, B: 4 }, {
  x: axis(cx),
  y: axis({ pos: 'left', min: 0.5405, max: 0.7244, size: 79, ticks: [0.6, 0.65, 0.7], labels: ['0.6', '0.65', '0.7'],
    pad: 8, color: '#b04cb0' }),
  yB: { type: 'linear', display: false, min: 0.1763, max: 0.2536 }
}, [
  vline(0, 0.5405, 0.7244),
  line(xy(cTime, durBrown), BROWN, 1.6),
  line(xy(cTime, durMagenta), MAG, 1.4)
]);

deco.cC3 = [{ t: 'vaxis', x: 'left', ticks: [1.5, 2, 2.5, 3], len: 6, color: '#222' }];
makeChart('cC3', { l: 79, t: 910, r: 643, b: 998, L: 79, T: 4, R: 10, B: 49 }, {
  x: axis({ pos: 'bottom', min: -0.102, max: 1.116, size: 49, ticks: [0, 0.2, 0.4, 0.6, 0.8, 1],
    labels: ['0', '0.2', '0.4', '0.6', '0.8', '1'], pad: 7, border: ['#222', 2.5],
    title: 'SLEEP-normalized time (nonREM only)', titleFont: { size: 17 }, titlePad: 0 }),
  y: axis({ pos: 'left', min: 1.368, max: 3.019, size: 79, ticks: [1.5, 2, 2.5, 3], labels: ['1.5', '2', '2.5', '3'],
    pad: 2, cross: 'center', color: '#222', border: ['#222', 2] })
}, [
  vline(0, 1.368, 3.019, 2), vline(1, 1.368, 3.019, 3),
  line(xy(cTime, spindles), '#ffaa33', 1.6)
]);

// ---------------- D ----------------
const decades = ['10\u207B\u00B2', '10\u207B\u00B9', '10\u2070', '10\u00B9'];
deco.cD = [
  { t: 'haxis', ticks: [0.002, 0.003, 0.004, 0.005, 0.006, 0.007, 0.008, 0.009, 0.02, 0.03, 0.04, 0.05, 0.06, 0.07,
    0.08, 0.09, 0.2, 0.3, 0.4, 0.5, 0.6, 0.7, 0.8, 0.9, 2, 3, 4, 5, 6, 7, 8, 9, 20], len: -4, color: '#999' },
  { t: 'haxis', ticks: [0.01, 0.1, 1, 10], len: -6, color: '#666' },
  { t: 'arrow' }
];
makeChart('cD', { l: 762, t: 63, r: 1002, b: 276, L: 72, T: 40, R: 45, B: 50 }, {
  x: axis({ type: 'logarithmic', pos: 'bottom', min: 0.001, max: 21, size: 50, ticks: [0.01, 0.1, 1, 10],
    labels: decades, font: { size: 18 }, pad: 2, border: ['#111', 3], title: 'First packet firing rate (Hz)',
    titleFont: { size: 16 }, titlePad: 3 }),
  y: axis({ type: 'logarithmic', pos: 'left', min: 0.0016, max: 12.3, size: 72, ticks: [0.01, 0.1, 1, 10],
    labels: decades, font: { size: 18 }, pad: 5, border: ['#bba6a6', 2] })
}, [
  line(dPairs.map(p => ({ x: Math.pow(10, p[0]), y: Math.pow(10, p[1]) })), '#111', 0,
    { showLine: false, pointRadius: 0.9, pointBackgroundColor: '#222', pointBorderWidth: 0 }),
  line(dUnity.map(p => ({ x: p[0], y: p[1] })), '#8a8a8a', 1.6),
  line(dFit.map(p => ({ x: p[0], y: p[1] })), '#111', 1.6, { borderDash: [6, 4] })
]);

// ---------------- E ----------------
const upWhisk = [], downWhisk = [], caps = [];
sextiles.forEach((s, i) => {
  upWhisk.push({ x: s, y: eUpFrom[i] }, { x: s, y: eUpTo[i] }, { x: s, y: null });
  downWhisk.push({ x: s, y: eDownFrom[i] }, { x: s, y: eDownTo[i] }, { x: s, y: null });
  caps.push({ x: s, y: eUpTo[i] }, { x: s, y: eDownTo[i] });
});
deco.cE = [{ t: 'haxis', ticks: sextiles, len: -4, color: '#666' }].concat(
  sextiles.map((s, i) => ({ t: 'text', x: s, y: eUpTo[i], text: eStars[i], font: "16px 'Liberation Sans'", color: '#333', dy: 6 })));
makeChart('cE', { l: 753, t: 393, r: 992, b: 658, L: 63, T: 15, R: 20, B: 47 }, {
  x: axis({ pos: 'bottom', min: 0.5, max: 6.5, size: 47, ticks: sextiles, labels: ['1', '2', '3', '4', '5', '6'],
    pad: 5, border: ['#333', 3], title: 'Sextile', titleFont: { size: 17 }, titlePad: 0 }),
  y: axis({ pos: 'left', min: -0.94, max: 1.15, size: 63, ticks: [-0.5, 0, 0.5, 1], labels: ['-0.5', '0', '0.5', '1'],
    pad: 8, border: ['#bba6a6', 2] })
}, [
  line([{ x: 0.5, y: 0 }, { x: 6.5, y: 0 }], '#111', 2.5),
  line(upWhisk, '#222', 1.5, { borderDash: [2, 2] }),
  line(downWhisk, '#222', 1.5, { borderDash: [2, 2] }),
  line(caps, '#111', 0, { showLine: false, pointStyle: 'line', pointRadius: 6.5, pointBorderWidth: 1.6, pointBorderColor: '#111' })
]);

// ---------------- F ----------------
deco.cF = [
  { t: 'rect', phase: 'under', dy0: -47, dy1: 5, color: '#e6e6e6' },
  { t: 'hbars', dy: -23.3, color: '#1f7f1f', width: 3, ranges: sigDark },
  { t: 'hbars', dy: -12.3, color: '#33ee33', width: 3, ranges: sigBright },
  { t: 'hbars', dy: -1.7, color: '#8833ee', width: 3.5, ranges: sigPurple }
];
makeChart('cF', { l: 750, t: 815, r: 1019, b: 1003, L: 60, T: 60, R: 31, B: 44 }, {
  x: axis({ pos: 'bottom', min: -0.0963, max: 1.099, size: 44, ticks: [0, 0.5, 1], labels: ['0', '0.5', '1'],
    pad: 1, border: ['#333', 2.5], title: 'UP State-normalized Time', titleFont: { size: 17 }, titlePad: 0 }),
  y: axis({ pos: 'left', min: -1.2, max: 1.18, size: 60, ticks: [-1, 0, 1], labels: ['-1', '0', '1'],
    pad: 10, border: ['#222', 2.5] }),
  yR: axis({ pos: 'right', min: -0.111, max: 0.1157, size: 31, ticks: [-0.1, 0, 0.1], labels: ['-0.1', '0', '0.1'],
    pad: 1, color: '#2a8a2a', border: ['#228b22', 2.5], tickMarks: 4, tickColor: '#228b22' })
}, [
  vline(0, -1.2, 1.18, 2), vline(1, -1.2, 1.18, 2),
  line([{ x: -0.0963, y: 0 }, { x: 1.099, y: 0 }], '#c4c4c4', 1.5, { borderDash: [10, 5] }),
  line(xy(binTime, fLow), '#1f7f1f', 1.8),
  line(xy(binTime, fHigh), '#3ff03f', 1.8),
  line(xy(binTime, fPl), '#7a3cf0', 1.8)
], true);
</script>
</body>
</html>
